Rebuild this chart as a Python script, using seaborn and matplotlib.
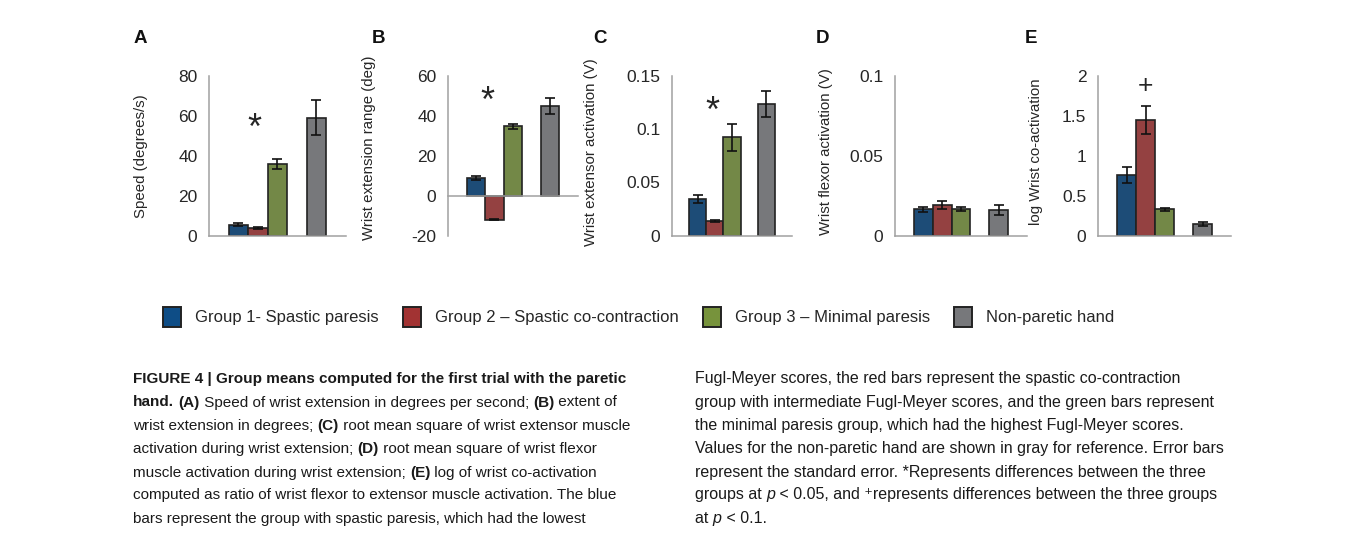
import numpy as np
import pandas as pd
import matplotlib
matplotlib.use("Agg")
import matplotlib.pyplot as plt
from matplotlib.patches import Patch
import seaborn as sns

# ---------------- data ----------------
groups = ["Group 1- Spastic paresis", "Group 2 – Spastic co-contraction",
          "Group 3 – Minimal paresis", "Non-paretic hand"]
colors = ["#0e4d86", "#a23333", "#77933c", "#77787b"]

speed_mean = [5.4, 3.8, 35.8, 59.0]
speed_se = [0.8, 0.5, 2.6, 8.8]
range_mean = [8.8, -12.0, 34.6, 45.0]
range_se = [1.2, 0.3, 1.2, 4.0]
ext_mean = [0.034, 0.0134, 0.092, 0.123]
ext_se = [0.0036, 0.0008, 0.0125, 0.012]
flex_mean = [0.0163, 0.0192, 0.0167, 0.016]
flex_se = [0.0015, 0.0026, 0.0012, 0.003]
coact_mean = [0.76, 1.44, 0.33, 0.15]
coact_se = [0.10, 0.175, 0.02, 0.025]

panel_letters = ["A", "B", "C", "D", "E"]
ylabels = ["Speed (degrees/s)", "Wrist extension range (deg)",
           "Wrist extensor activation (V)", "Wrist flexor activation (V)",
           "log Wrist co-activation"]
yticks = [[0, 20, 40, 60, 80], [-20, 0, 20, 40, 60], [0, 0.05, 0.1, 0.15],
          [0, 0.05, 0.1], [0, 0.5, 1, 1.5, 2]]
yticklabels = [["0", "20", "40", "60", "80"], ["-20", "0", "20", "40", "60"],
               ["0", "0.05", "0.1", "0.15"], ["0", "0.05", "0.1"],
               ["0", "0.5", "1", "1.5", "2"]]
means = [speed_mean, range_mean, ext_mean, flex_mean, coact_mean]
ses = [speed_se, range_se, ext_se, flex_se, coact_se]
# significance markers: (symbol, x-position in slot units, y value)
marks = [("*", 0.85, 53), ("*", 0.62, 46.5), ("*", 0.85, 0.115), None, ("+", 1.0, 1.87)]

gap = " "
order = groups[:3] + [gap] + groups[3:]

# ---------------- style ----------------
sns.set_theme(style="white")
plt.rcParams["font.family"] = ["Liberation Sans", "DejaVu Sans"]
W, H = 1355, 550
fig = plt.figure(figsize=(W / 100, H / 100), dpi=100)
fig.patch.set_facecolor("white")

axes_px = [(209, 136.5), (448, 130), (672, 120), (895, 132), (1098, 133)]
top_px, bot_px = 75.5, 235.5
letter_x = [140.5, 378.5, 600, 822.5, 1031.5]
ylabel_x = [141.5, 369, 591, 826, 1036]
ylabel_y = [156, 148, 152, 152, 152]
spine_col = "#a0a0a0"
text_col = "#262626"

for i in range(5):
    left, width = axes_px[i]
    ax = fig.add_axes([left / W, 1 - bot_px / H, width / W, (bot_px - top_px) / H])
    df = pd.DataFrame({"group": groups, "value": means[i]})
    sns.barplot(data=df, x="group", y="value", hue="group", order=order,
                hue_order=groups, palette=colors, width=1.0, errorbar=None,
                edgecolor="#222222", linewidth=1.2, legend=False, ax=ax, zorder=2)
    pos = [order.index(g) for g in groups]
    ax.errorbar(pos, means[i], yerr=ses[i], fmt="none", ecolor="#111111",
                elinewidth=1.2, capsize=3.3, capthick=1.2, zorder=3)
    ax.set_xlim(-1.5, 5.5)
    ax.set_ylim(yticks[i][0], yticks[i][-1])
    ax.set_yticks(yticks[i])
    ax.set_yticklabels(yticklabels[i])
    ax.set_xticks([])
    ax.set_xlabel("")
    ax.set_ylabel("")
    for s in ["top", "right"]:
        ax.spines[s].set_visible(False)
    for s in ["left", "bottom"]:
        ax.spines[s].set_color(spine_col)
        ax.spines[s].set_linewidth(1.1)
    if yticks[i][0] < 0:
        ax.spines["bottom"].set_position(("data", 0))
    ax.tick_params(axis="y", direction="out", length=4.3, width=1.1,
                   color=spine_col, labelsize=12.5, labelcolor=text_col, pad=4)
    ax.set_facecolor("none")
    m = marks[i]
    if m is not None:
        ax.text(m[1], m[2], m[0], ha="center", va="center",
                fontsize=26 if m[0] == "*" else 19, color=text_col)
    fig.text(letter_x[i] / W, 1 - 38.5 / H, panel_letters[i], ha="center",
             va="center", fontsize=13.5, fontweight="bold", color="#111111")
    fig.text(ylabel_x[i] / W, 1 - ylabel_y[i] / H, ylabels[i], rotation=90,
             ha="center", va="center", fontsize=10.8, color=text_col)

# ---------------- legend ----------------
handles = [Patch(facecolor=c, edgecolor="#222222", linewidth=1.4) for c in colors]
fig.legend(handles, groups, loc="center", bbox_to_anchor=(638.5 / W, 1 - 317 / H),
           ncol=4, frameon=False, fontsize=12, handlelength=1.08, handleheight=1.55,
           handletextpad=0.85, columnspacing=1.45, labelcolor=text_col)

# ---------------- caption ----------------
cap = fig.add_axes([0, 0, 1, 1])
cap.set_axis_off()
cap.set_xlim(0, W)
cap.set_ylim(H, 0)

B = "bold"
N = "normal"
I = "italic"

left_lines = [
    [("FIGURE 4 | Group means computed for the first trial with the paretic", B, N)],
    [("hand.", B, N), (" ", N, N), ("(A)", B, N), (" Speed of wrist extension in degrees per second; ", N, N),
     ("(B)", B, N), (" extent of", N, N)],
    [("wrist extension in degrees; ", N, N), ("(C)", B, N),
     (" root mean square of wrist extensor muscle", N, N)],
    [("activation during wrist extension; ", N, N), ("(D)", B, N),
     (" root mean square of wrist flexor", N, N)],
    [("muscle activation during wrist extension; ", N, N), ("(E)", B, N),
     (" log of wrist co-activation", N, N)],
    [("computed as ratio of wrist flexor to extensor muscle activation. The blue", N, N)],
    [("bars represent the group with spastic paresis, which had the lowest", N, N)],
]
right_lines = [
    [("Fugl-Meyer scores, the red bars represent the spastic co-contraction", N, N)],
    [("group with intermediate Fugl-Meyer scores, and the green bars represent", N, N)],
    [("the minimal paresis group, which had the highest Fugl-Meyer scores.", N, N)],
    [("Values for the non-paretic hand are shown in gray for reference. Error bars", N, N)],
    [("represent the standard error. *Represents differences between the three", N, N)],
    [("groups at ", N, N), ("p", N, I), (" < 0.05, and \u207arepresents differences between the three groups", N, N)],
    [("at ", N, N), ("p", N, I), (" < 0.1.", N, N)],
]

baselines = [383, 406.5, 430, 453, 476.5, 499.5, 523]


def rich_line(x, y, pieces, fs):
    prev = None
    for txt, wt, st in pieces:
        if prev is None:
            prev = cap.text(x, y, txt, fontsize=fs, fontweight=wt, fontstyle=st,
                            ha="left", va="baseline", color="#1a1a1a")
        else:
            prev = cap.annotate(txt, xy=(1, y), xycoords=(prev, cap.transData),
                                ha="left", va="baseline",
                                fontsize=fs, fontweight=wt, fontstyle=st,
                                color="#1a1a1a")


for k, line in enumerate(left_lines):
    rich_line(133, baselines[k], line, 11.0)
for k, line in enumerate(right_lines):
    rich_line(695, baselines[k], line, 11.5)

fig.savefig("out.png", dpi=100, facecolor="white")
